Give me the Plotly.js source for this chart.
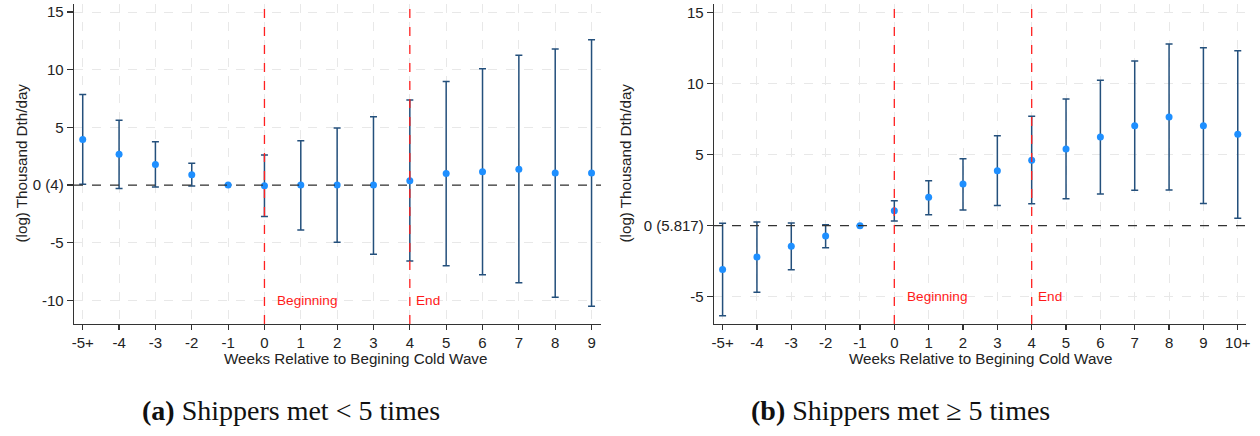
<!DOCTYPE html>
<html>
<head>
<meta charset="utf-8">
<script src="https://cdn.plot.ly/plotly-3.0.1.min.js"></script>
<style>
html,body{margin:0;padding:0;background:#fff;}
#chart{width:1260px;height:436px;}
</style>
</head>
<body>
<div id="chart"></div>
<script>
// ---- Data ----
const weeksA  = [-5,-4,-3,-2,-1,0,1,2,3,4,5,6,7,8,9];
const labelsA = ["-5+","-4","-3","-2","-1","0","1","2","3","4","5","6","7","8","9"];
const coefA   = [3.96,2.66,1.79,0.90,0,-0.06,0,0,0,0.38,1.01,1.16,1.36,1.04,1.04];
const upperA  = [7.86,5.61,3.76,1.88,0,2.60,3.84,4.94,5.93,7.37,8.99,10.09,11.25,11.80,12.60];
const lowerA  = [0.06,-0.29,-0.17,-0.09,0,-2.72,-3.90,-4.97,-6.01,-6.59,-7.00,-7.78,-8.47,-9.74,-10.52];

const weeksB  = [-5,-4,-3,-2,-1,0,1,2,3,4,5,6,7,8,9,10];
const labelsB = ["-5+","-4","-3","-2","-1","0","1","2","3","4","5","6","7","8","9","10+"];
const coefB   = [-3.07,-2.20,-1.45,-0.72,0,1.05,2.00,2.93,3.87,4.60,5.39,6.24,7.03,7.64,7.03,6.43];
const upperB  = [0.17,0.26,0.19,0.07,0,1.76,3.17,4.71,6.33,7.69,8.91,10.22,11.58,12.78,12.52,12.31];
const lowerB  = [-6.33,-4.68,-3.09,-1.55,0,0.33,0.77,1.10,1.43,1.55,1.90,2.23,2.49,2.51,1.57,0.52];

const yTicksA = [-10,-5,0,5,10,15];
const yLabelsA = ["-10","-5","0 (4)","5","10","15"];
const yTicksB = [-5,0,5,10,15];
const yLabelsB = ["-5","0 (5.817)","5","10","15"];

const yTitle = "(log) Thousand Dth/day";
const xTitle = "Weeks Relative to Begining Cold Wave";
const eventWeeks = [0, 4];
const eventLabels = ["Beginning", "End"];
const captionA = "<b>(a)</b> Shippers met &lt; 5 times";
const captionB = "<b>(b)</b> Shippers met ≥ 5 times";

// ---- Styling ----
const W = 1260, H = 436;
const px = v => v / W;
const py = v => 1 - v / H;
const FONT = "Liberation Sans, Arial, sans-serif";
const barColor = "#24507c";
const dotColor = "#1e8fff";

function trace(x, c, up, lo, xa, ya) {
  return {
    type: "scatter", mode: "markers",
    x: x, y: c, xaxis: xa, yaxis: ya,
    marker: {color: dotColor, size: 7},
    error_y: {
      type: "data", symmetric: false,
      array: up.map((u, i) => u - c[i]),
      arrayminus: lo.map((l, i) => c[i] - l),
      color: barColor, thickness: 1.5, width: 3.5
    },
    hoverinfo: "x+y", showlegend: false
  };
}

function axisDef(domain, range, vals, labels, anchor, tl) {
  return {
    domain: domain, range: range, anchor: anchor,
    tickmode: "array", tickvals: vals, ticktext: labels,
    showline: true, linecolor: "#333", linewidth: 1.3,
    ticks: "outside", ticklen: tl, tickcolor: "#333", tickwidth: 1.2,
    showgrid: true, gridcolor: "#e8e8e8", griddash: "dash", gridwidth: 1,
    zeroline: false, tickfont: {family: FONT, size: 15, color: "#222"}
  };
}

const yDom = [py(324), py(4)];
const layout = {
  width: W, height: H,
  margin: {l: 0, r: 0, t: 0, b: 0},
  paper_bgcolor: "#fff", plot_bgcolor: "#fff",
  showlegend: false,
  xaxis:  axisDef([px(74), px(601)], [-5.24, 9.26], weeksA, labelsA, "y", 5),
  yaxis:  axisDef(yDom, [-12.05, 15.7], yTicksA, yLabelsA, "x", 6),
  xaxis2: axisDef([px(714), px(1246)], [-5.25, 10.24], weeksB, labelsB, "y2", 5),
  yaxis2: axisDef(yDom, [-6.91, 15.59], yTicksB, yLabelsB, "x2", 6),
  shapes: [],
  annotations: []
};

// zero lines and event lines
[["x","y"],["x2","y2"]].forEach(([xa, ya]) => {
  layout.shapes.push({type: "line", xref: xa + " domain", yref: ya, x0: 0, x1: 1, y0: 0, y1: 0,
    line: {color: "#333", width: 1.3, dash: "dash"}});
  eventWeeks.forEach(w => {
    layout.shapes.push({type: "line", xref: xa, yref: ya + " domain", x0: w, x1: w, y0: 0, y1: 1,
      line: {color: "#ff2020", width: 1.3, dash: "dash"}});
  });
});

// event labels
const labelY = {x: -10, x2: -5};
const shifts = [11, 4];
["x","x2"].forEach((xa, k) => {
  const ya = k === 0 ? "y" : "y2";
  eventWeeks.forEach((w, i) => {
    layout.annotations.push({xref: xa, yref: ya, x: w, y: labelY[xa], xanchor: "left", yanchor: "middle",
      xshift: shifts[i], text: eventLabels[i], showarrow: false,
      font: {family: FONT, size: 13.6, color: "#ff1a1a"}});
  });
});

// axis titles
[[21, 355], [625, 980]].forEach(([yx, xx]) => {
  layout.annotations.push({xref: "paper", yref: "paper", x: px(yx), y: py(163.5), xanchor: "center", yanchor: "middle",
    text: yTitle, textangle: -90, showarrow: false, font: {family: FONT, size: 15.2, color: "#222"}});
  layout.annotations.push({xref: "paper", yref: "paper", x: px(xx), y: py(358), xanchor: "center", yanchor: "middle",
    text: xTitle, showarrow: false, font: {family: FONT, size: 15.2, color: "#222"}});
});

// captions
[[291, captionA], [900, captionB]].forEach(([cx, t]) => {
  layout.annotations.push({xref: "paper", yref: "paper", x: px(cx), y: py(410), xanchor: "center", yanchor: "middle",
    text: t, showarrow: false, font: {family: "Liberation Serif, Times New Roman, serif", size: 28, color: "#111"}});
});

const data = [
  trace(weeksA, coefA, upperA, lowerA, "x", "y"),
  trace(weeksB, coefB, upperB, lowerB, "x2", "y2")
];

Plotly.newPlot("chart", data, layout, {displayModeBar: false, staticPlot: true});
</script>
</body>
</html>
